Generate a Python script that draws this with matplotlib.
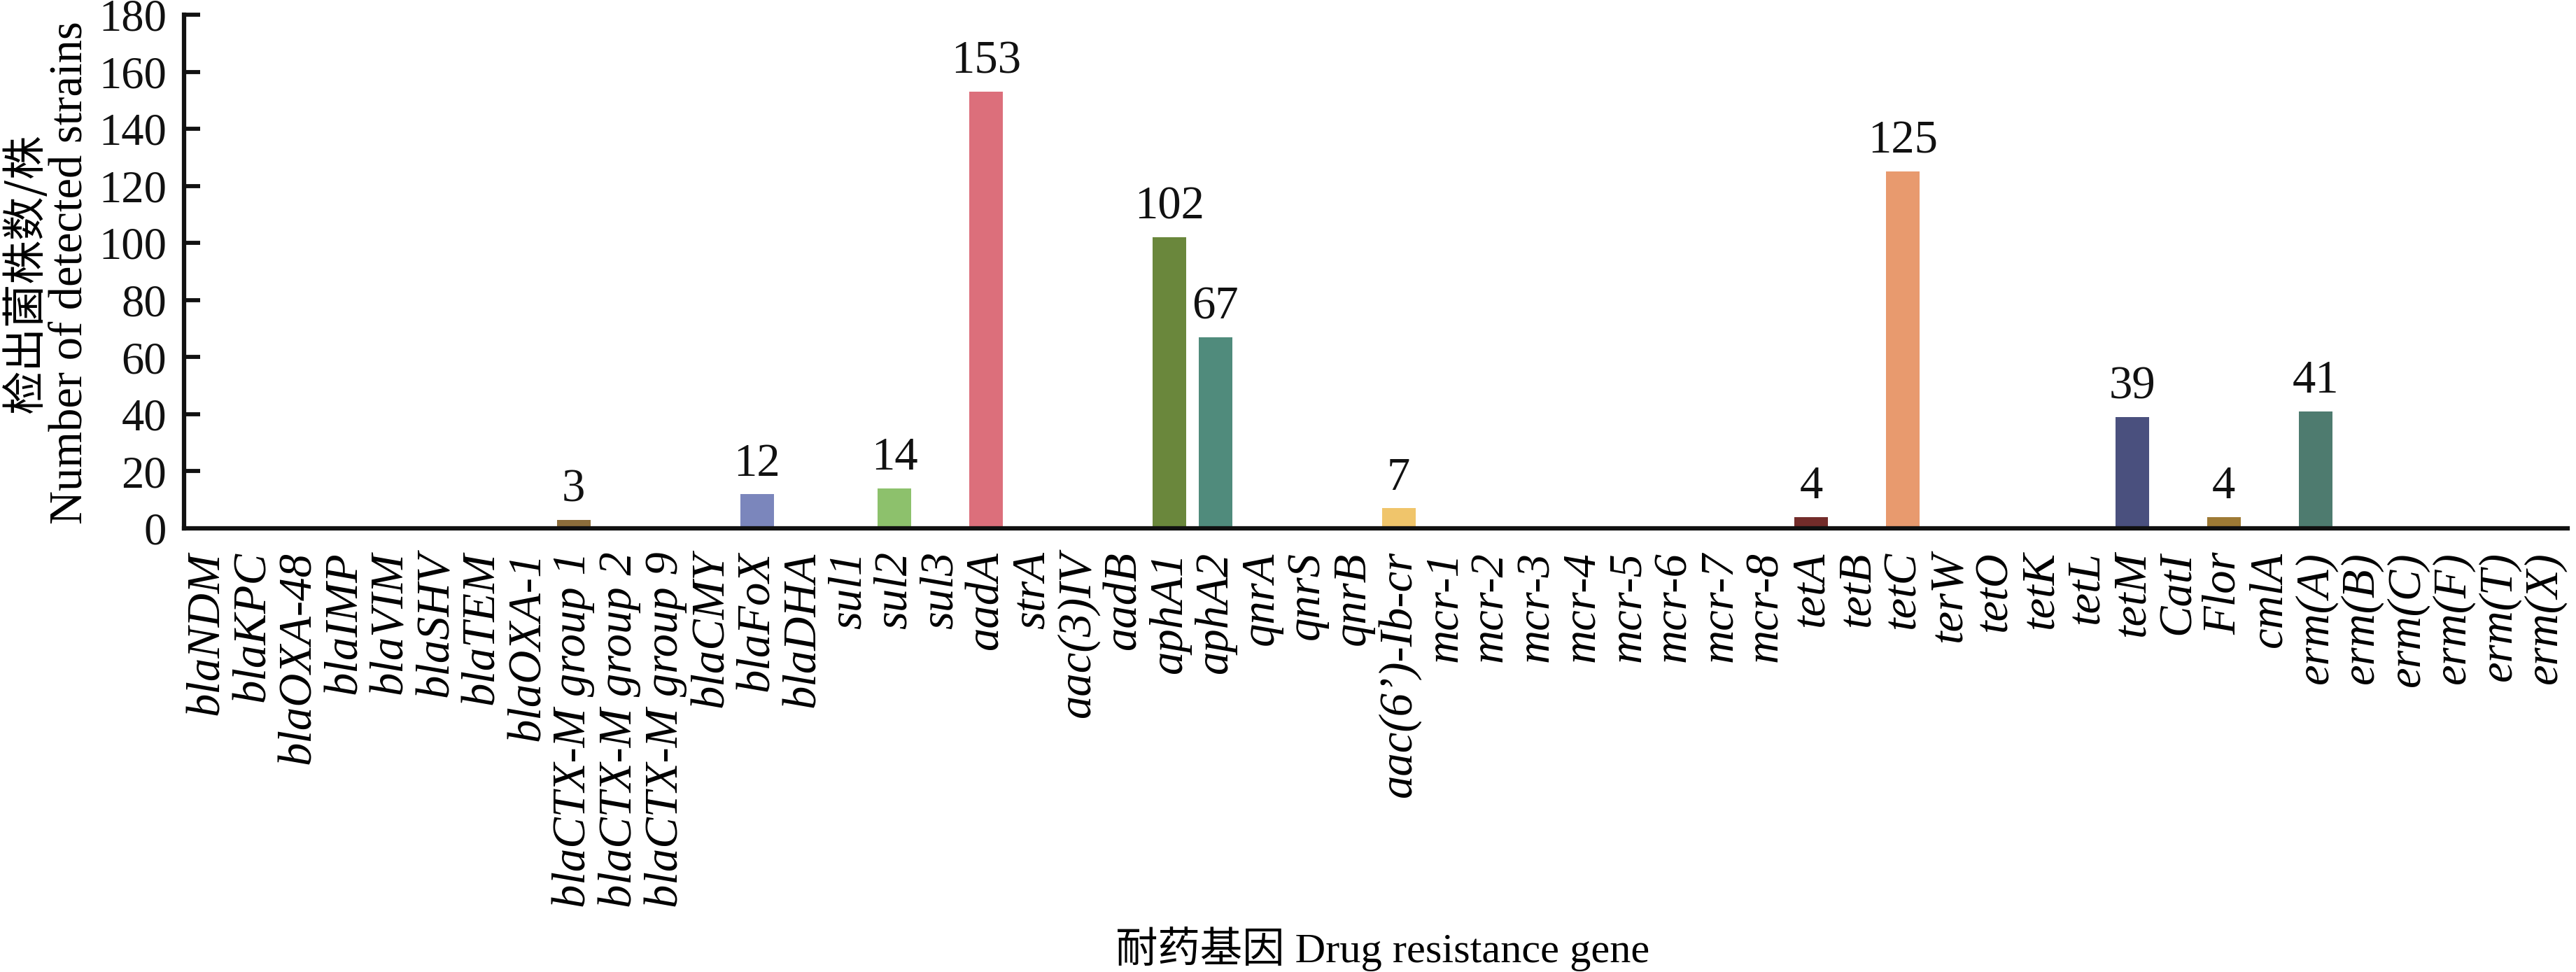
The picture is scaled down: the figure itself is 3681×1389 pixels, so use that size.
import matplotlib
matplotlib.use("Agg")
import matplotlib.pyplot as plt

genes = ["blaNDM", "blaKPC", "blaOXA-48", "blaIMP", "blaVIM", "blaSHV", "blaTEM", "blaOXA-1",
         "blaCTX-M group 1", "blaCTX-M group 2", "blaCTX-M group 9", "blaCMY", "blaFoX", "blaDHA",
         "sul1", "sul2", "sul3", "aadA", "strA", "aac(3)IV", "aadB", "aphA1", "aphA2",
         "qnrA", "qnrS", "qnrB", "aac(6’)-Ib-cr",
         "mcr-1", "mcr-2", "mcr-3", "mcr-4", "mcr-5", "mcr-6", "mcr-7", "mcr-8",
         "tetA", "tetB", "tetC", "terW", "tetO", "tetK", "tetL", "tetM",
         "CatI", "Flor", "cmlA",
         "erm(A)", "erm(B)", "erm(C)", "erm(F)", "erm(T)", "erm(X)"]

counts = [0, 0, 0, 0, 0, 0, 0, 0,
          3, 0, 0, 0, 12, 0,
          0, 14, 0, 153, 0, 0, 0, 102, 67,
          0, 0, 0, 7,
          0, 0, 0, 0, 0, 0, 0, 0,
          4, 0, 125, 0, 0, 0, 0, 39,
          0, 4, 0,
          41, 0, 0, 0, 0, 0]

bar_colors = {"blaCTX-M group 1": "#8C6D3B", "blaFoX": "#7B86BC", "sul2": "#8DC16C",
              "aadA": "#DC6F7B", "aphA1": "#6A873C", "aphA2": "#508B7C",
              "aac(6’)-Ib-cr": "#F0C56B", "tetA": "#732C2A", "tetC": "#E89A6E",
              "tetM": "#4A507E", "Flor": "#9E7A35", "erm(A)": "#4E7B6F"}

yticks = [0, 20, 40, 60, 80, 100, 120, 140, 160, 180]

serif = ["Liberation Serif", "Noto Sans CJK SC"]
plt.rcParams["font.family"] = serif

W, H = 3681, 1389
dpi = 300
fig = plt.figure(figsize=(W / dpi, H / dpi), dpi=dpi)
ax = fig.add_axes([263 / W, 1 - 755 / H, (3669 - 263) / W, (755 - 21) / H])

x = list(range(len(genes)))
colors = [bar_colors.get(g, "#888888") for g in genes]
bars = ax.bar(x, counts, width=0.74, color=colors, edgecolor="none", zorder=2)

for xi, v in zip(x, counts):
    if v > 0:
        ax.annotate(str(v), (xi, v), xytext=(0, 3), textcoords="offset points",
                    ha="center", va="bottom", fontsize=16, family=serif, color="#111111")

ax.set_xlim(-0.5, len(genes) - 0.5)
ax.set_ylim(0, 180)
ax.set_yticks(yticks)
ax.set_yticklabels([str(t) for t in yticks], fontsize=15.5)
ax.set_xticks(x)
ax.set_xticklabels(genes, rotation=90, fontsize=16, style="italic", va="top", ha="center")
ax.tick_params(axis="y", direction="in", length=5.5, width=1.4, pad=6, colors="#111111")
ax.tick_params(axis="x", length=0, pad=8)

for s in ["top", "right"]:
    ax.spines[s].set_visible(False)
for s in ["left", "bottom"]:
    ax.spines[s].set_linewidth(1.5)
    ax.spines[s].set_color("#111111")

fig.text(37 / W, 1 - 390 / H, "检出菌株数/株", rotation=90, ha="center", va="center",
         fontsize=15, family=["Noto Sans CJK SC", "Liberation Serif"])
fig.text(100 / W, 1 - 390 / H, "Number of detected strains", rotation=90, ha="center",
         va="center", fontsize=16)
fig.text(1976 / W, 1 - 1356 / H, "耐药基因 Drug resistance gene", ha="center", va="center",
         fontsize=14.5, family=serif)

fig.savefig("out.png", dpi=dpi, facecolor="white")
